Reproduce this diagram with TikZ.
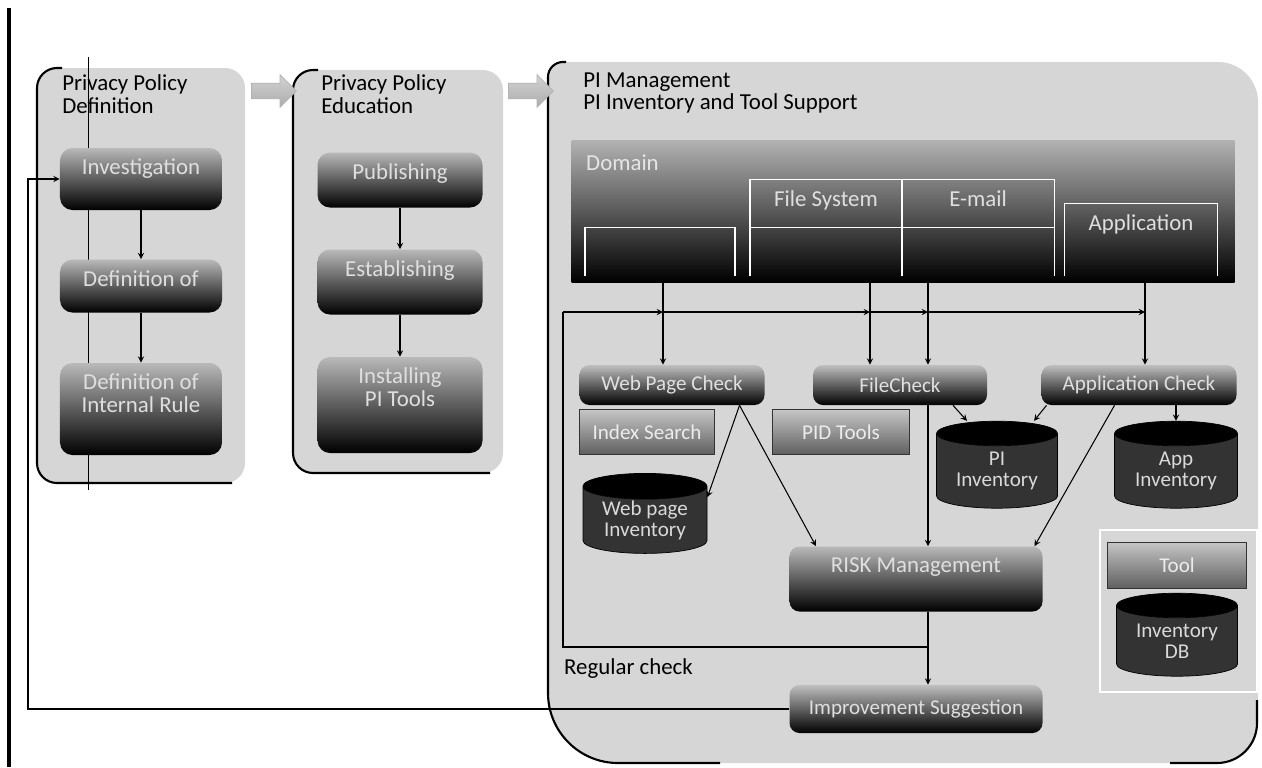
\documentclass[tikz,border=0pt]{standalone}
\usepackage{fontspec}
\setmainfont{Carlito}
\usetikzlibrary{shapes.geometric,shapes.arrows}

\tikzset{
  panel/.style={fill=gray!32},
  edge/.style={line width=1.2pt},
  arr/.style={->, >=stealth, line width=0.6pt},
  ptitle/.style={font=\fontsize{13}{13}\selectfont, align=left, anchor=north west, inner sep=0pt},
  procbox/.style={rounded corners=2.5mm, top color=gray!55, bottom color=black, draw=none, text=gray!25, font=\fontsize{13}{13}\selectfont, align=center},
  tl/.style={label={[anchor=north, yshift=-1mm, text=gray!25, font=\fontsize{13}{13}\selectfont, align=center]north:#1}},
  chkbox/.style={procbox, rounded corners=2mm, top color=gray!50, font=\fontsize{12}{12}\selectfont},
  toolbox/.style={draw=black!80, top color=gray!45, bottom color=gray!75!black, text=gray!15, font=\fontsize{12}{12}\selectfont},
  tabline/.style={draw=white, line width=0.9pt},
  dbcyl/.style={cylinder, shape border rotate=90, aspect=0.3, draw=black, cylinder uses custom fill, cylinder body fill=gray!40!black, cylinder end fill=black, text=gray!30, align=center, font=\fontsize{12}{12}\selectfont, inner sep=0pt},
  blockarr/.style={single arrow, draw=gray!60, top color=gray!35, bottom color=gray!65, minimum height=9mm, inner xsep=0pt, inner ysep=1.5mm, single arrow head extend=1.7mm}
}

\begin{document}
\begin{tikzpicture}[x=0.2mm, y=-0.2mm]
\useasboundingbox (0,0) rectangle (1262,767);

% frame line on the left
\draw[line width=2.5pt] (9,8) -- (9,767);

% panels
\fill[panel, rounded corners=4mm] (37,68) rectangle (245,483);
\draw[edge, rounded corners=4mm] (232,483) -- (37,483) -- (37,68) -- (62,68);
\fill[panel, rounded corners=4mm] (293,70) rectangle (503,473);
\draw[edge, rounded corners=4mm] (490,473) -- (293,473) -- (293,70) -- (318,70);
\fill[panel] [rounded corners=14mm] (548,400) -- (548,763) -- (900,763) [rounded corners=8mm] -- (1258,763) -- (1258,62) [rounded corners=3mm] -- (548,62) -- cycle;
\draw[edge] [rounded corners=3mm] (566,62) -- (548,62) [rounded corners=14mm] -- (548,763) -- (720,763);
\draw[edge, rounded corners=8mm] (1170,763) -- (1257,763) -- (1257,700);

\draw[line width=0.4pt] (88,57) -- (88,490);

% titles
\node[ptitle] (t_def) at (62,74) {Privacy Policy\\Definition};
\node[ptitle] (t_edu) at (321,74) {Privacy Policy\\Education};
\node[ptitle] (t_pim) at (583,72) {PI Management\\PI Inventory and Tool Support};

\node[blockarr] (arrA) at (270,91) {};
\node[blockarr] (arrB) at (527,91) {};

% policy definition
\node[procbox, minimum width=32.4mm, minimum height=12.4mm, tl=Investigation] (inv) at (141,179) {};
\node[procbox, minimum width=32.4mm, minimum height=10.6mm, tl=Definition of] (defpi) at (141,286) {};
\node[procbox, minimum width=32.4mm, minimum height=18.4mm, tl={Definition of\\Internal Rule}] (defint) at (141,409) {};
\draw[arr] (inv) -- (defpi);
\draw[arr] (defpi) -- (defint);

% policy education
\node[procbox, minimum width=33mm, minimum height=11mm, tl=Publishing] (pub) at (400,180) {};
\node[procbox, minimum width=33mm, minimum height=13mm, tl=Establishing] (est) at (400,282) {};
\node[procbox, minimum width=33mm, minimum height=19.2mm, tl={Installing\\PI Tools}] (inst) at (400,405) {};
\draw[arr] (pub) -- (est);
\draw[arr] (est) -- (inst);

% domain
\node[procbox, rounded corners=0pt, top color=gray!60, minimum width=132.6mm, minimum height=28.4mm] (dom) at (903,211) {};
\node[anchor=west, text=gray!20, font=\fontsize{13}{13}\selectfont] (domt) at (580,163) {Domain};
\node[minimum width=29.8mm, minimum height=9.6mm] (tA) at (660,252) {};
\node[minimum width=30.2mm, minimum height=19.2mm, tl=File System] (tB) at (826,228) {};
\node[minimum width=30.4mm, minimum height=19.2mm, tl=E-mail] (tC) at (978,228) {};
\node[minimum width=30.4mm, minimum height=14.4mm, tl=Application] (tD) at (1141,240) {};
\draw[tabline] (tA.south west) |- (tA.north east) -- (tA.south east);
\draw[tabline] (tB.south west) |- (tB.north east) -- (tB.south east);
\draw[tabline] (tC.south west) |- (tC.north east) -- (tC.south east);
\draw[tabline] (tD.south west) |- (tD.north east) -- (tD.south east);
\draw[tabline] (tB.west |- tA.north) -- (tC.east |- tA.north);

% checks and tools
\node[chkbox, minimum width=37mm, minimum height=8mm] (wpc) at (672,385) {Web Page Check};
\node[chkbox, minimum width=34.8mm, minimum height=8mm] (fc) at (900,385) {FileCheck};
\node[chkbox, minimum width=39mm, minimum height=8mm] (apc) at (1139,385) {Application Check};
\node[toolbox, minimum width=27mm, minimum height=9mm] (idx) at (647,432) {Index Search};
\node[toolbox, minimum width=27.4mm, minimum height=9mm] (pid) at (841,432) {PID Tools};

\node[dbcyl, minimum width=24.8mm, minimum height=16mm] (wpi) at (645,520) {Web page\\Inventory};
\node[dbcyl, minimum width=24.2mm, minimum height=17.4mm] (pii) at (997,471) {PI\\Inventory};
\node[dbcyl, minimum width=24.6mm, minimum height=17.4mm] (api) at (1176,471) {App\\Inventory};

\node[procbox, rounded corners=2mm, minimum width=50.6mm, minimum height=13mm, tl=RISK Management] (risk) at (916,579) {};
\node[chkbox, minimum width=50.6mm, minimum height=9.6mm] (imp) at (916,709) {Improvement Suggestion};

% legend
\draw[white, line width=1.2pt] (1100,530) rectangle (1257,692);
\node[toolbox, minimum width=27.8mm, minimum height=9.2mm] (tool) at (1177,565) {Tool};
\node[dbcyl, minimum width=24.2mm, minimum height=16.6mm] (idb) at (1177,641) {Inventory\\DB};

\node[anchor=west, font=\fontsize{13}{13}\selectfont] (rc) at (558,669) {Regular check};

% connectors
\coordinate (c1) at (663,0);
\coordinate (c2) at (870,0);
\coordinate (c3) at (928,0);
\coordinate (c4) at (1145,0);
\draw[arr] (c1 |- dom.south) -- (c1 |- wpc.north);
\draw[arr] (c2 |- dom.south) -- (c2 |- fc.north);
\draw[arr] (c3 |- dom.south) -- (c3 |- fc.north);
\draw[arr] (c4 |- dom.south) -- (c4 |- apc.north);

\coordinate (rct) at (563,312);
\coordinate (rcb) at (563,647);
\draw[line width=0.6pt] (c3 |- rcb) -- (rcb) -- (rct);
\draw[arr] (rct) -- (c1 |- rct);
\draw[arr] (c1 |- rct) -- (c2 |- rct);
\draw[arr] (c2 |- rct) -- (c3 |- rct);
\draw[arr] (c3 |- rct) -- (c4 |- rct);

\draw[arr] ([xshift=13.5mm]wpc.south) -- (wpi.20);
\draw[arr] ([xshift=13.5mm]wpc.south) -- ([xshift=-20mm]risk.north);
\draw[arr] ([xshift=10.6mm]fc.south) -- ([xshift=-6mm]pii.north);
\draw[arr] ([xshift=-18.5mm]apc.south) -- ([xshift=7.4mm]pii.north);
\draw[arr] (apc.south -| api.north) -- (api.north);
\draw[arr] ([xshift=-4.9mm]apc.south) -- ([xshift=23.7mm]risk.north);
\draw[arr] (c3 |- fc.south) -- (c3 |- risk.north);
\draw[arr] (c3 |- risk.south) -- (c3 |- imp.north);

\coordinate (fb) at (28,400);
\draw[arr] (imp.west) -| (fb) |- (inv.west);
\end{tikzpicture}
\end{document}
